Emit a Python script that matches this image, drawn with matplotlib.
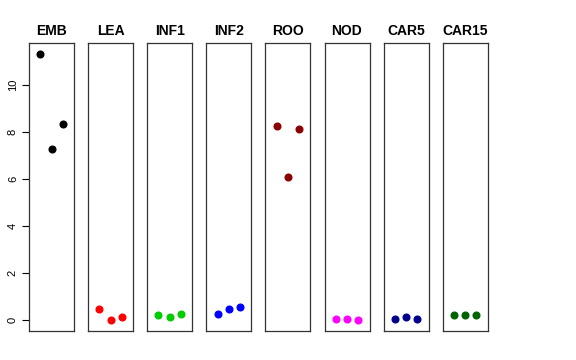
import matplotlib
matplotlib.use("Agg")
import matplotlib.pyplot as plt

plt.rcParams['font.family'] = ['Liberation Sans', 'DejaVu Sans']

tissues = ['EMB', 'LEA', 'INF1', 'INF2', 'ROO', 'NOD', 'CAR5', 'CAR15']
colors = ['black', 'red', '#00CD00', 'blue', '#8B0000', 'magenta', '#00008B', '#006400']
reps = [1, 2, 3]
values = [
    [11.32, 7.28, 8.32],
    [0.49, 0.00, 0.15],
    [0.25, 0.13, 0.28],
    [0.28, 0.47, 0.57],
    [8.26, 6.09, 8.13],
    [0.06, 0.06, 0.02],
    [0.04, 0.15, 0.04],
    [0.25, 0.21, 0.21],
]
yticks = [0, 2, 4, 6, 8, 10]

W, H = 576, 360
fig = plt.figure(figsize=(W / 100, H / 100), dpi=100)

left0, pw, step = 29, 45, 59.1
bottom, top = 331, 43
for i, name in enumerate(tissues):
    ax = fig.add_axes([(left0 + i * step) / W, (H - bottom) / H, pw / W, (bottom - top) / H])
    ax.plot(reps, values[i], 'o', color=colors[i], markersize=4.8, linestyle='none')
    ax.set_xlim(0, 4)
    ax.set_ylim(-0.45, 11.78)
    ax.set_xticks([])
    for s in ax.spines.values():
        s.set_linewidth(0.9)
        s.set_color('#333333')
    ax.set_title(name, fontsize=10, fontweight='bold', pad=6)
    if i == 0:
        ax.set_yticks(yticks)
        ax.set_yticklabels([str(t) for t in yticks], rotation=90, va='center', fontsize=8)
        ax.tick_params(axis='y', length=5, width=0.8, pad=3)
    else:
        ax.set_yticks([])

fig.savefig('out.png', dpi=100)
